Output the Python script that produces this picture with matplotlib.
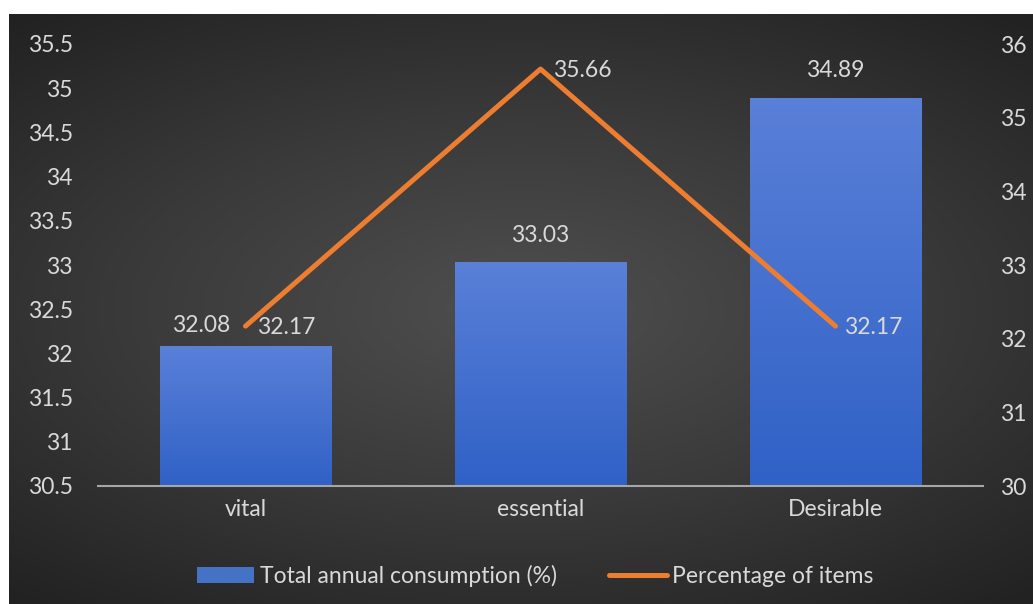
import numpy as np
import matplotlib
matplotlib.use("Agg")
from matplotlib import pyplot as plt
from matplotlib.colors import LinearSegmentedColormap

categories = ["vital", "essential", "Desirable"]
consumption = [32.08, 33.03, 34.89]
items_pct = [32.17, 35.66, 32.17]
left_ticks = [30.5, 31, 31.5, 32, 32.5, 33, 33.5, 34, 34.5, 35, 35.5]
right_ticks = [30, 31, 32, 33, 34, 35, 36]

plt.rcParams['font.family'] = ['Lato', 'DejaVu Sans']
txt = '#d9d9d9'
fs = 16.5

fig = plt.figure(figsize=(10.33, 6.04), dpi=100, facecolor='white')

# dark background panel with radial gradient
bg = fig.add_axes([9/1033, 0, 1 - 9/1033, 1 - 14/604])
yy, xx = np.mgrid[-1:1:300j, -1:1:500j]
r = np.sqrt((xx * 0.85) ** 2 + (yy * 1.0) ** 2)
bgcmap = LinearSegmentedColormap.from_list('bg', ['#4f4f4f', '#3a3a3a', '#222222'])
bg.imshow(r, cmap=bgcmap, vmin=0, vmax=1.3, aspect='auto', extent=[0, 1, 0, 1])
bg.axis('off')

ax = fig.add_axes([98/1033, 1 - 486/604, (983-98)/1033, (486-44)/604])
ax.patch.set_alpha(0)
x = np.arange(len(categories))
bars = ax.bar(x, consumption, width=0.58, color='#4472c4', zorder=2)
ax.set_ylim(30.5, 35.5)
ax.set_xlim(-0.5, 2.5)

# vertical gradient inside bars
grad = np.linspace(0, 1, 256).reshape(-1, 1)
bcmap = LinearSegmentedColormap.from_list('b', ['#3061c6', '#5a80d8'])
for b in bars:
    im = ax.imshow(grad, cmap=bcmap, aspect='auto', origin='lower',
                   extent=[b.get_x(), b.get_x() + b.get_width(), 30.5, b.get_height()], zorder=2)
    im.set_clip_path(b)

ax.set_yticks(left_ticks)
ax.set_yticklabels([f"{t:g}" for t in left_ticks])
ax.set_xticks(x)
ax.set_xticklabels(categories)
ax.tick_params(axis='both', length=0, colors=txt, labelsize=fs)
ax.tick_params(axis='y', pad=18)
ax.tick_params(axis='x', pad=9)
for s in ['top', 'right', 'left']:
    ax.spines[s].set_visible(False)
ax.spines['bottom'].set_color('#a6a6a6')
ax.spines['bottom'].set_linewidth(1.5)
ax.spines['bottom'].set_zorder(3)

ax2 = ax.twinx()
ax2.set_ylim(30, 36)
ax2.set_yticks(right_ticks)
ax2.tick_params(axis='y', length=0, colors=txt, labelsize=fs, pad=12)
for s in ax2.spines.values():
    s.set_visible(False)
line, = ax2.plot(x, items_pct, color='#ed7d31', linewidth=3.6, solid_capstyle='round', zorder=4)

# data labels
offs_bar = [(-32, 15), (0, 19), (0, 20)]
for i, v in enumerate(consumption):
    dx, dy = offs_bar[i]
    ax.annotate(f"{v:.2f}", (x[i], v), xytext=(dx, dy), textcoords='offset points',
                ha='center', va='center', color=txt, fontsize=fs)
offs_line = [(29, -1), (30, -1), (27, -1)]
for i, v in enumerate(items_pct):
    dx, dy = offs_line[i]
    ax2.annotate(f"{v:.2f}", (x[i], v), xytext=(dx, dy), textcoords='offset points',
                 ha='center', va='center', color=txt, fontsize=fs)

leg = fig.legend([bars, line], ["Total annual consumption (%)", "Percentage of items"],
                 loc='center', bbox_to_anchor=(0.518, 1 - 576/604), ncol=2, frameon=False,
                 fontsize=fs, labelcolor=txt, handlelength=2.5, handletextpad=0.25,
                 columnspacing=2.3)

fig.savefig("out.png", dpi=100, facecolor='white')
